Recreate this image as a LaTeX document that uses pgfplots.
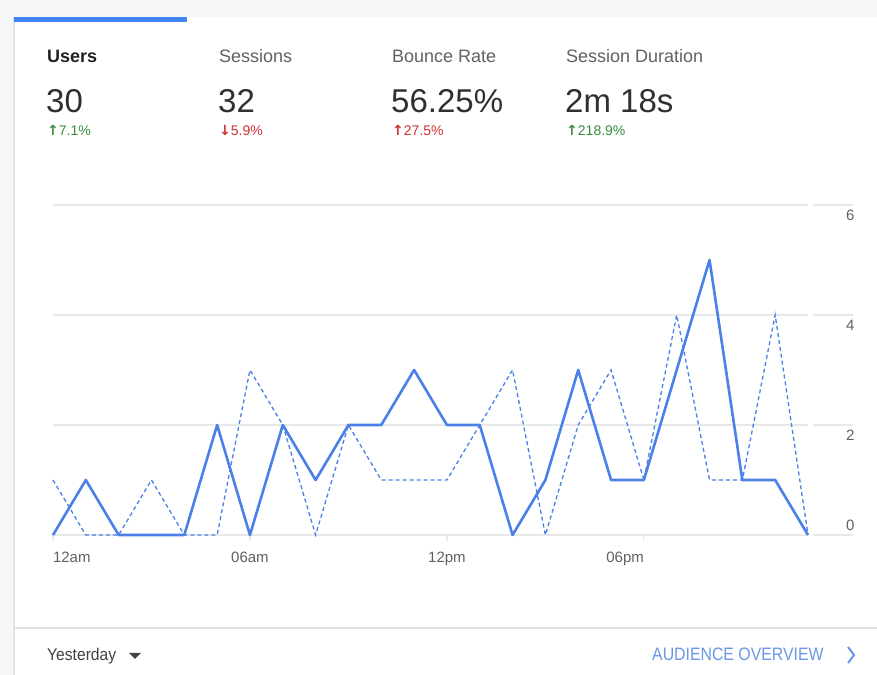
\documentclass[border=0pt]{standalone}
\usepackage{fontspec}
\setmainfont{Liberation Sans}
\newfontfamily\sym{DejaVu Sans}
\usepackage{pgfplots}
\usepackage{pgfplotstable}
\pgfplotsset{compat=1.18}

\definecolor{lineblue}{RGB}{74,128,232}
\definecolor{barblue}{RGB}{66,133,244}
\definecolor{linkblue}{RGB}{104,152,230}
\definecolor{upgreen}{RGB}{56,142,60}
\definecolor{downred}{RGB}{205,50,45}
\definecolor{labgray}{RGB}{97,97,97}
\definecolor{dark}{RGB}{33,33,33}
\definecolor{bignum}{RGB}{48,48,48}
\definecolor{gridgray}{RGB}{232,232,232}
\definecolor{pagebg}{RGB}{246,247,249}
\definecolor{edge}{RGB}{225,227,230}

% users per hour, yesterday (solid) and the day before (dashed)
\pgfplotstableread{
hour today before
0  0 1
1  1 0
2  0 0
3  0 1
4  0 0
5  2 0
6  0 3
7  2 2
8  1 0
9  2 2
10 2 1
11 3 1
12 2 1
13 2 2
14 0 3
15 1 0
16 3 2
17 1 3
18 1 1
19 3 4
20 5 1
21 1 1
22 1 4
23 0 0
}\hourly

\newcommand{\fs}[1]{\fontsize{#1bp}{#1bp}\selectfont}

\begin{document}
\begin{tikzpicture}[x=1bp,y=1bp]
% page and card
\fill[pagebg] (0,0) rectangle (877,675);
\path[use as bounding box] (0,0) rectangle (877,675);
\fill[white] (14,0) rectangle (877,658);
\draw[edge,line width=1.2bp] (14,0) -- (14,658);
\fill[barblue] (14,653) rectangle (187,658);
\draw[edge,line width=1.2bp] (14,47) -- (877,47);

% header metrics
\node[anchor=base west,inner sep=0,text=dark,font=\fs{18}\bfseries] at (47,612) {Users};
\node[anchor=base west,inner sep=0,text=labgray,font=\fs{18}] at (219,612) {Sessions};
\node[anchor=base west,inner sep=0,text=labgray,font=\fs{18}] at (392,612) {Bounce Rate};
\node[anchor=base west,inner sep=0,text=labgray,font=\fs{18}] at (566,612) {Session Duration};

\node[anchor=base west,inner sep=0,text=bignum,font=\fs{33}] at (46,562) {30};
\node[anchor=base west,inner sep=0,text=bignum,font=\fs{33}] at (218,562) {32};
\node[anchor=base west,inner sep=0,text=bignum,font=\fs{33}] at (391,562) {56.25\%};
\node[anchor=base west,inner sep=0,text=bignum,font=\fs{33}] at (565,562) {2m 18s};

\node[anchor=base west,inner sep=0,text=upgreen,font=\fs{14}] at (47,539) {{\sym\bfseries↑}7.1\%};
\node[anchor=base west,inner sep=0,text=downred,font=\fs{14}] at (219,539) {{\sym\bfseries↓}5.9\%};
\node[anchor=base west,inner sep=0,text=downred,font=\fs{14}] at (392,539) {{\sym\bfseries↑}27.5\%};
\node[anchor=base west,inner sep=0,text=upgreen,font=\fs{14}] at (566,539) {{\sym\bfseries↑}218.9\%};

% footer
\node[anchor=base west,inner sep=0,text=dark!85,font=\fs{17}] at (47,14) {\scalebox{0.92}[1]{Yesterday}};
\fill[dark!85] (129,22) -- (141,22) -- (135,16) -- cycle;
\node[anchor=base west,inner sep=0,text=linkblue,font=\fs{18}] at (652,14) {\scalebox{0.88}[1]{AUDIENCE OVERVIEW}};
\draw[linkblue,line width=2bp] (848,28) -- (854,20) -- (848,12);

% right axis tick segments
\foreach \yy in {140,250,360,470} \draw[gridgray,line width=1.3bp] (813,\yy) -- (853,\yy);

\begin{axis}[
    at={(53bp,140bp)}, anchor=south west,
    scale only axis,
    width=755bp, height=330bp,
    xmin=0, xmax=23, ymin=0, ymax=6,
    clip=false,
    axis x line*=bottom, axis y line*=right,
    axis line style={draw=none},
    ymajorgrids,
    grid style={gridgray,line width=1.3bp},
    xtick={0,6,12,18},
    xticklabels={\makebox[0pt][l]{12am},06am,12pm,\makebox[0pt][r]{06pm}},
    tick align=outside,
    major tick length=6bp,
    xtick style={gridgray,line width=1.2bp},
    ytick style={draw=none},
    /pgf/number format/assume math mode=true,
    xticklabel style={font=\fs{15},text=labgray,anchor=base,yshift=-22bp},
    ytick={2,4,6},
    extra y ticks={0},
    extra y tick style={yticklabel style={yshift=20bp}},
    yticklabel style={font=\fs{15},text=labgray,anchor=east,xshift=44bp,yshift=-10bp},
]
\addplot[lineblue,line width=1.3bp,dash pattern=on 4bp off 3bp] table[x=hour,y=before] {\hourly};
\addplot[lineblue,line width=2.6bp,line join=round] table[x=hour,y=today] {\hourly};
\end{axis}
\end{tikzpicture}
\end{document}
